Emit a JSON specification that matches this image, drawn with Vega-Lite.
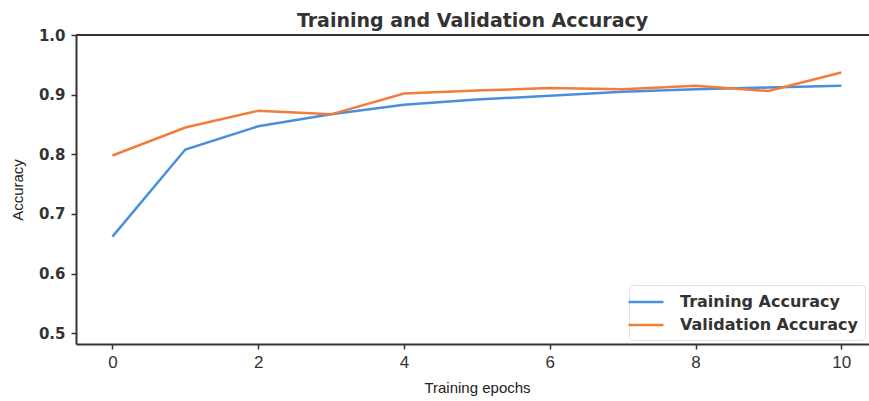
{
  "$schema": "https://vega.github.io/schema/vega-lite/v6.json",
  "autosize": "none",
  "padding": {"left": 76, "top": 35, "right": 0, "bottom": 57},
  "width": 793,
  "height": 309,
  "background": "white",
  "title": {
    "text": "Training and Validation Accuracy",
    "font": "DejaVu Sans",
    "fontSize": 19,
    "fontWeight": "bold",
    "color": "#333333",
    "anchor": "middle",
    "offset": -3
  },
  "data": {
    "values": [
      {"epoch": 0, "series": "Training Accuracy", "accuracy": 0.662},
      {"epoch": 1, "series": "Training Accuracy", "accuracy": 0.808},
      {"epoch": 2, "series": "Training Accuracy", "accuracy": 0.847},
      {"epoch": 3, "series": "Training Accuracy", "accuracy": 0.867},
      {"epoch": 4, "series": "Training Accuracy", "accuracy": 0.883},
      {"epoch": 5, "series": "Training Accuracy", "accuracy": 0.892},
      {"epoch": 6, "series": "Training Accuracy", "accuracy": 0.898},
      {"epoch": 7, "series": "Training Accuracy", "accuracy": 0.905},
      {"epoch": 8, "series": "Training Accuracy", "accuracy": 0.909},
      {"epoch": 9, "series": "Training Accuracy", "accuracy": 0.912},
      {"epoch": 10, "series": "Training Accuracy", "accuracy": 0.915},
      {"epoch": 0, "series": "Validation Accuracy", "accuracy": 0.798},
      {"epoch": 1, "series": "Validation Accuracy", "accuracy": 0.845},
      {"epoch": 2, "series": "Validation Accuracy", "accuracy": 0.873},
      {"epoch": 3, "series": "Validation Accuracy", "accuracy": 0.867},
      {"epoch": 4, "series": "Validation Accuracy", "accuracy": 0.902},
      {"epoch": 5, "series": "Validation Accuracy", "accuracy": 0.907},
      {"epoch": 6, "series": "Validation Accuracy", "accuracy": 0.911},
      {"epoch": 7, "series": "Validation Accuracy", "accuracy": 0.909},
      {"epoch": 8, "series": "Validation Accuracy", "accuracy": 0.915},
      {"epoch": 9, "series": "Validation Accuracy", "accuracy": 0.906},
      {"epoch": 10, "series": "Validation Accuracy", "accuracy": 0.937}
    ]
  },
  "config": {
    "view": {"stroke": null},
    "axis": {
      "domainColor": "#333333",
      "domainWidth": 2,
      "tickColor": "#333333",
      "tickWidth": 1.5,
      "tickSize": 5,
      "grid": false,
      "labelColor": "#333333",
      "titleColor": "#222222",
      "titleFontWeight": "normal"
    }
  },
  "layer": [
    {
      "mark": {"type": "line", "strokeWidth": 2.5, "clip": true},
      "encoding": {
        "x": {
          "field": "epoch",
          "type": "quantitative",
          "scale": {"domain": [-0.5, 10.38], "nice": false, "zero": false},
          "axis": {
            "values": [0, 2, 4, 6, 8, 10],
            "format": "d",
            "labelFont": "Liberation Sans",
            "labelFontSize": 17,
            "labelPadding": 5,
            "title": "Training epochs",
            "titleFont": "Liberation Sans",
            "titleFontSize": 15,
            "titlePadding": 10,
            "titleX": 401
          }
        },
        "y": {
          "field": "accuracy",
          "type": "quantitative",
          "scale": {"domain": [0.482, 1.0], "nice": false, "zero": false},
          "axis": {
            "values": [0.5, 0.6, 0.7, 0.8, 0.9, 1.0],
            "format": ".1f",
            "labelFont": "DejaVu Sans",
            "labelFontSize": 15,
            "labelFontWeight": "bold",
            "labelPadding": 6,
            "title": "Accuracy",
            "titleFont": "Liberation Sans",
            "titleFontSize": 15,
            "titlePadding": 13
          }
        },
        "color": {
          "field": "series",
          "type": "nominal",
          "scale": {
            "domain": ["Training Accuracy", "Validation Accuracy"],
            "range": ["#4a8fdc", "#f07d3a"]
          },
          "legend": {
            "title": null,
            "orient": "bottom-right",
            "offset": 4,
            "symbolType": "M-2,0H2",
            "symbolSize": 306,
            "symbolStrokeWidth": 2.5,
            "labelFont": "DejaVu Sans",
            "labelFontSize": 16,
            "labelFontWeight": "bold",
            "labelColor": "#333333",
            "labelLimit": 400,
            "labelOffset": 24,
            "rowPadding": 5,
            "padding": 7,
            "fillColor": "white",
            "strokeColor": "#e2e2e2",
            "cornerRadius": 4
          }
        }
      }
    },
    {
      "mark": {"type": "rule", "color": "#333333", "strokeWidth": 2},
      "encoding": {
        "y": {"datum": 1.0}
      }
    }
  ]
}
